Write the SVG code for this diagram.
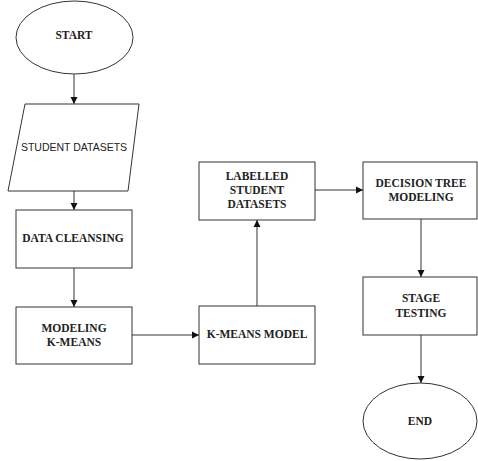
<svg xmlns="http://www.w3.org/2000/svg" width="478" height="461" viewBox="0 0 478 461">
<style>
.s{fill:#fff;stroke:#333;stroke-width:1}
.t{font-family:"Liberation Serif","Times New Roman",serif;font-weight:bold;font-size:11.5px;fill:#222;text-anchor:middle}
.ts{font-family:"Liberation Sans",Arial,sans-serif;font-size:10.5px;fill:#222;text-anchor:middle}
.c{stroke:#333;stroke-width:1;fill:none;marker-end:url(#a)}
</style>
<defs>
<marker id="a" markerWidth="8" markerHeight="8" refX="7" refY="4" orient="auto" markerUnits="userSpaceOnUse">
<path d="M0,0.5 L7,4 L0,7.5 Z" fill="#111"/>
</marker>
</defs>
<rect width="478" height="461" fill="#fff"/>
<g id="connectors">
<path class="c" d="M74,74 V104"/>
<path class="c" d="M74,191 V210"/>
<path class="c" d="M74,268 V307"/>
<path class="c" d="M132,335 H199"/>
<path class="c" d="M257,306 V220"/>
<path class="c" d="M315,190 H363"/>
<path class="c" d="M421,219 V277"/>
<path class="c" d="M421,335 V383"/>
</g>
<g id="start"><ellipse class="s" cx="74.5" cy="37.5" rx="58.5" ry="36.5"/><text class="t" x="74" y="39">START</text></g>
<g id="student-datasets"><polygon class="s" points="25,104 139,104 128,191 8,191"/><text class="ts" x="74" y="151">STUDENT DATASETS</text></g>
<g id="data-cleansing"><rect class="s" x="16" y="210" width="116" height="58"/><text class="t" x="73" y="242">DATA CLEANSING</text></g>
<g id="modeling-kmeans"><rect class="s" x="16" y="307" width="116" height="57"/><text class="t" x="74" y="332">MODELING</text><text class="t" x="74" y="346">K-MEANS</text></g>
<g id="kmeans-model"><rect class="s" x="199" y="306" width="116" height="58"/><text class="t" x="257" y="338">K-MEANS MODEL</text></g>
<g id="labelled"><rect class="s" x="199" y="162" width="116" height="58"/><text class="t" x="257" y="180">LABELLED</text><text class="t" x="257" y="194">STUDENT</text><text class="t" x="257" y="208">DATASETS</text></g>
<g id="decision-tree"><rect class="s" x="363" y="162" width="114" height="57"/><text class="t" x="421" y="187">DECISION TREE</text><text class="t" x="421" y="201">MODELING</text></g>
<g id="stage-testing"><rect class="s" x="363" y="277" width="114" height="58"/><text class="t" x="421" y="302">STAGE</text><text class="t" x="421" y="317">TESTING</text></g>
<g id="end"><ellipse class="s" cx="420" cy="421" rx="57" ry="38"/><text class="t" x="420" y="425">END</text></g>
</svg>
